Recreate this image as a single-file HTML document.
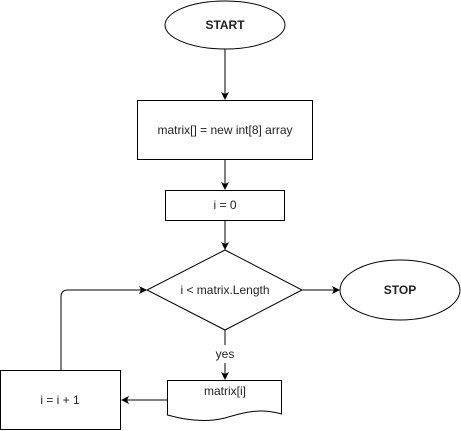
<!DOCTYPE html>
<html><head><style>body{margin:0;background:#fff}svg{display:block}</style></head><body>
<svg width="461" height="431" viewBox="0 0 461 431" xmlns="http://www.w3.org/2000/svg" font-family="Liberation Sans, sans-serif" font-size="12">
<defs><marker id="a" markerWidth="8" markerHeight="8" refX="7" refY="4" orient="auto" markerUnits="userSpaceOnUse"><path d="M0,0 L8,4 L0,8 L2,4 Z" fill="#000"/></marker></defs>
<g fill="#fff" stroke="#000" stroke-width="1">
<ellipse cx="225" cy="25" rx="60" ry="24"/>
<rect x="137.5" y="100.5" width="175" height="59"/>
<rect x="165.5" y="190.5" width="119" height="30"/>
<path d="M225,250 L302,290 L225,330 L147,290 Z"/>
<ellipse cx="400" cy="290" rx="60" ry="30"/>
<rect x="0.5" y="370.5" width="120" height="59"/>
<path d="M167.5,380.5 H281.5 V414 C260,408 245,412 225,418 C205,423 185,420 167.5,415 Z"/>
</g>
<g stroke="#000" fill="none">
<path d="M225,49 V99" marker-end="url(#a)"/>
<path d="M225,160 V189" marker-end="url(#a)"/>
<path d="M225,221 V249" marker-end="url(#a)"/>
<path d="M302,290 H339" marker-end="url(#a)"/>
<path d="M225,330 V345 M225,363 V379" marker-end="url(#a)"/>
<path d="M167,400 H122" marker-end="url(#a)"/>
<path d="M61,370 V297 Q61,290 68,290 H146" marker-end="url(#a)"/>
</g>
<g text-anchor="middle" fill="#222">
<text x="225" y="29" font-weight="bold">START</text>
<text x="225" y="134">matrix[] = new int[8] array</text>
<text x="225" y="209">i = 0</text>
<text x="225" y="294">i &lt; matrix.Length</text>
<text x="400" y="294" font-weight="bold">STOP</text>
<text x="225" y="358">yes</text>
<text x="225" y="395">matrix[i]</text>
<text x="60" y="404">i = i + 1</text>
</g>
</svg>
</body></html>
